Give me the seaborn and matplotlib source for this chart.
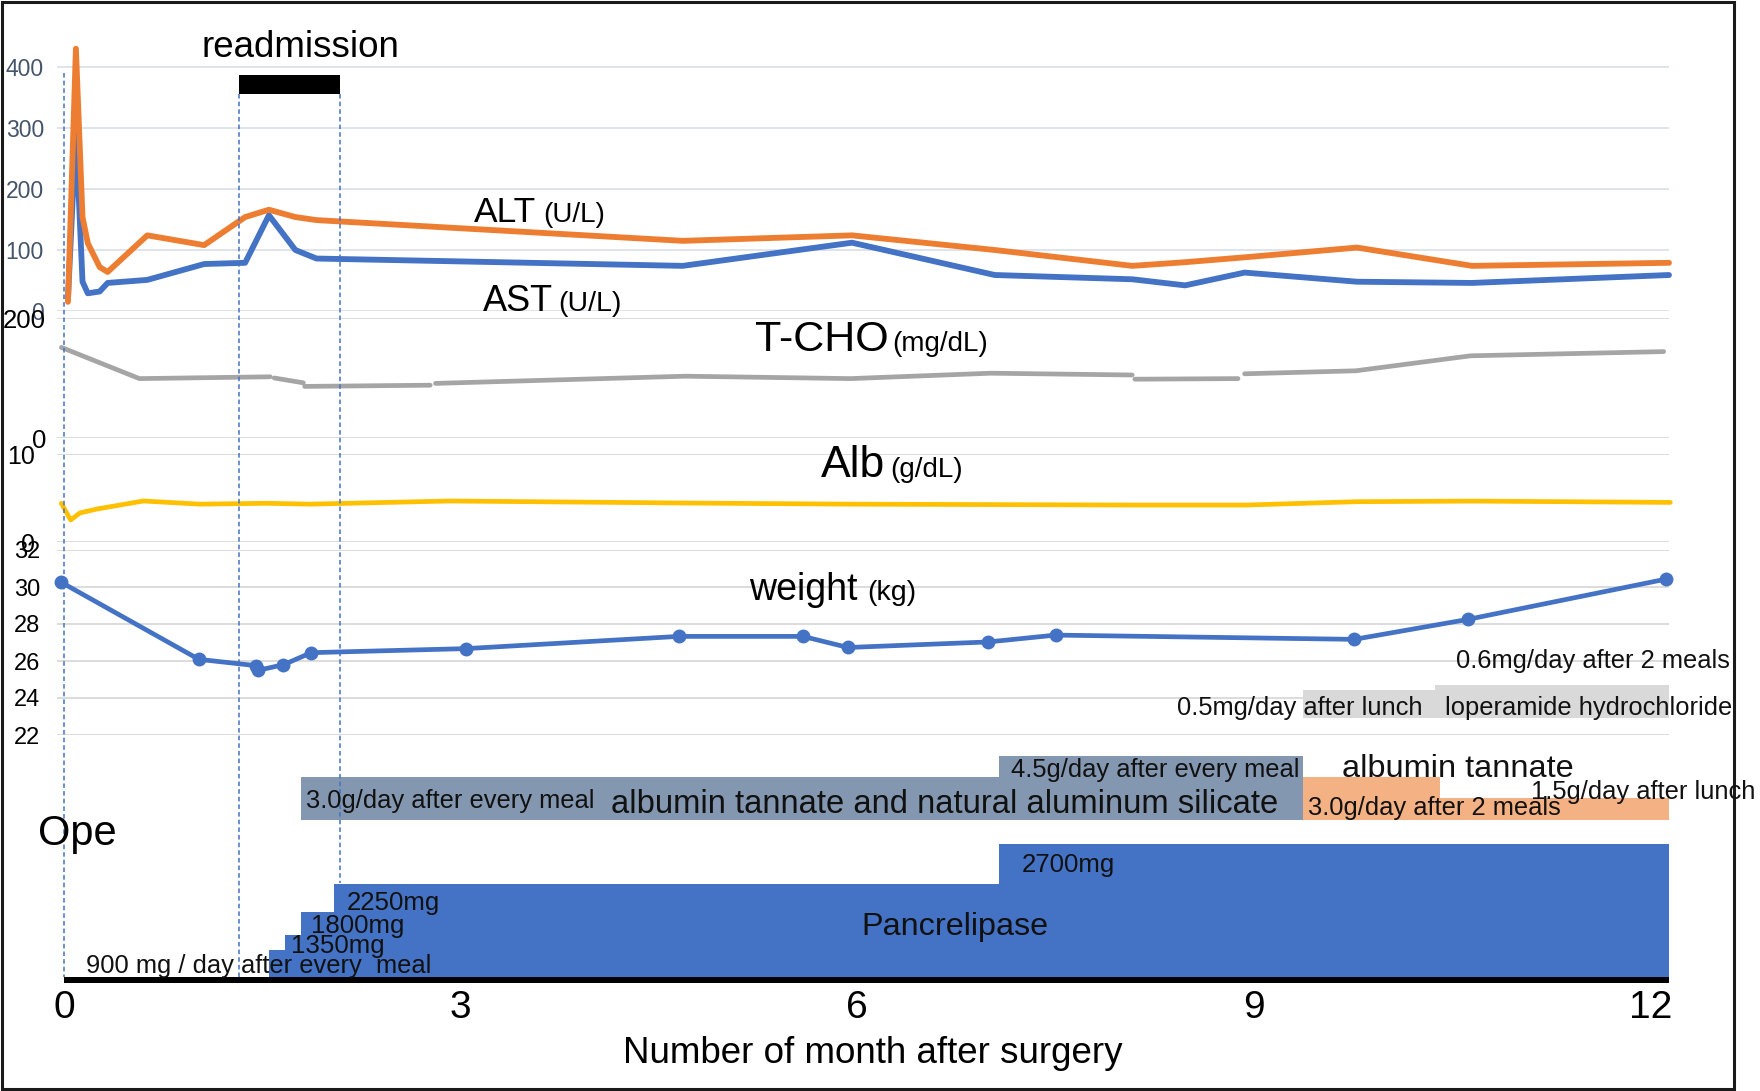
import numpy as np
import pandas as pd
import matplotlib
matplotlib.use("Agg")
import matplotlib.pyplot as plt
import seaborn as sns
from matplotlib.patches import Rectangle

# ---- values (x = months after surgery) ----
liver_month = [0.03, 0.09, 0.14, 0.18, 0.27, 0.33, 0.63, 1.06, 1.37, 1.55, 1.75, 1.91,
               4.68, 5.96, 7.04, 8.08, 8.48, 8.93, 9.78, 10.65, 12.14]
alt = [15, 430, 154, 111, 72, 64, 124, 108, 154, 166, 154, 149,
       115, 124, 100, 74, 80, 88, 104, 74, 79]
ast = [20, 295, 48, 29, 32, 46, 51, 77, 79, 157, 100, 86,
       74, 112, 59, 52, 42, 63, 48, 46, 59]

# T-CHO is drawn in broken pieces in the original
tcho_seg = [0, 0, 0, 1, 1, 2, 2, 3, 3, 3, 3, 3, 4, 4, 5, 5, 5, 5]
tcho_month = [-0.02, 0.57, 1.56, 1.59, 1.81, 1.82, 2.77, 2.81, 4.70, 5.95, 7.01, 8.08,
              8.10, 8.88, 8.93, 9.77, 10.64, 12.10]
tcho = [151, 99, 102, 100, 92, 86, 88, 91, 103, 99, 108, 105, 98, 99, 107, 112, 137, 144]

alb_month = [-0.02, 0.05, 0.12, 0.25, 0.6, 1.03, 1.53, 1.86, 2.92, 4.70, 5.95, 8.08,
             8.94, 9.78, 10.65, 12.15]
alb = [4.4, 2.5, 3.3, 3.75, 4.66, 4.3, 4.4, 4.3, 4.66, 4.43, 4.3, 4.2, 4.2, 4.58, 4.65, 4.5]

wt_month = [-0.02, 1.02, 1.45, 1.47, 1.66, 1.87, 3.04, 4.65, 5.59, 5.93, 6.99, 7.5,
            9.76, 10.62, 12.12]
weight = [30.25, 26.09, 25.75, 25.5, 25.8, 26.45, 26.67, 27.33, 27.33, 26.73, 27.03, 27.4,
          27.17, 28.25, 30.43]

# treatments
lop_start = [9.37, 10.37]
lop_end = [10.37, 12.14]
lop_dose = [0.5, 0.6]          # mg/day

sil_start = [1.79, 7.07]
sil_end = [7.07, 9.37]
sil_dose = [3.0, 4.5]          # g/day

tan_start = [9.37, 10.41]
tan_end = [10.41, 12.14]
tan_dose = [3.0, 1.5]          # g/day

panc_start = [1.55, 1.67, 1.79, 2.04, 7.07]
panc_end = [1.67, 1.79, 2.04, 7.07, 12.14]
panc_height = [27, 42, 65, 93, 133]   # bar heights as drawn
panc_labels = ["1350mg", "1800mg", "2250mg", "2700mg"]

readmit = (1.32, 2.09)
follow_end = 12.14
x_ticks = [0, 3, 6, 9, 12]

# ---- figure ----
sns.set_theme(style="white")
plt.rcParams['font.family'] = ['Liberation Sans', 'DejaVu Sans']

W, H = 1760, 1091
fig = plt.figure(figsize=(W / 100, H / 100), dpi=100)
XLIM = (-0.053, 12.14)
XL, XR = 57, 1669


def panel(top, bottom):
    ax = fig.add_axes([XL / W, 1 - bottom / H, (XR - XL) / W, (bottom - top) / H])
    ax.set_xlim(*XLIM)
    ax.set_facecolor('none')
    for s in ax.spines.values():
        s.set_visible(False)
    ax.set_xticks([])
    return ax


def tidy(ax, ticks, lim, size, pad, color='black', grid='#D9D9D9'):
    ax.set_ylim(*lim)
    ax.set_yticks(ticks)
    ax.set_xlabel('')
    ax.set_ylabel('')
    ax.tick_params(axis='y', length=0, pad=pad, labelsize=size, labelcolor=color)
    ax.grid(axis='y', color=grid, lw=1.3)
    ax.grid(axis='x', visible=False)
    ax.set_axisbelow(True)


line_kw = dict(solid_joinstyle='round', solid_capstyle='round', clip_on=False)

# ALT / AST
ax1 = panel(42.6, 311)
sns.lineplot(x=liver_month, y=ast, ax=ax1, color='#4472C4', lw=4.2, sort=False,
             estimator=None, **line_kw)
sns.lineplot(x=liver_month, y=alt, ax=ax1, color='#ED7D31', lw=4.2, sort=False,
             estimator=None, **line_kw)
tidy(ax1, [0, 100, 200, 300, 400], (0, 440), 16.5, 9.4, color='#44546A', grid='#DCE2EA')
ax1.set_xlim(*XLIM)

# T-CHO
ax2 = panel(318, 438)
tcho_df = pd.DataFrame({'seg': tcho_seg, 'month': tcho_month, 'tcho': tcho})
sns.lineplot(data=tcho_df, x='month', y='tcho', units='seg', estimator=None, sort=False,
             ax=ax2, color='#A5A5A5', lw=3.4, legend=False, **line_kw)
tidy(ax2, [0, 200], (0, 200), 18.5, 8)
ax2.set_xlim(*XLIM)

# Alb
ax3 = panel(454, 542)
sns.lineplot(x=alb_month, y=alb, ax=ax3, color='#FFC000', lw=3.4, sort=False,
             estimator=None, **line_kw)
tidy(ax3, [0, 10], (0, 10), 18, 16)
ax3.set_xlim(*XLIM)

# weight
ax4 = panel(550, 735)
sns.lineplot(x=wt_month, y=weight, ax=ax4, color='#4472C4', lw=3.4, marker='o',
             markersize=10, markeredgewidth=0, sort=False, estimator=None, **line_kw)
tidy(ax4, list(range(22, 33, 2)), (22, 32), 17, 12)
ax4.set_xlim(*XLIM)

# loperamide row
ax5 = panel(684.6, 718.3)
ax5.bar(lop_start, lop_dose, width=np.subtract(lop_end, lop_start), align='edge',
        color='#D9D9D9', lw=0)
ax5.set_ylim(0, 0.6)
ax5.set_yticks([])

# albumin tannate (+ natural aluminum silicate) row
ax6 = panel(755.5, 819.5)
ax6.bar(sil_start, sil_dose, width=np.subtract(sil_end, sil_start), align='edge',
        color='#8497B0', lw=0)
ax6.bar(tan_start, tan_dose, width=np.subtract(tan_end, tan_start), align='edge',
        color='#F4B183', lw=0)
ax6.set_ylim(0, 4.5)
ax6.set_yticks([])

# pancrelipase row
ax7 = panel(842, 983)
ax7.bar(panc_start, panc_height, width=np.subtract(panc_end, panc_start), align='edge',
        color='#4472C4', lw=0)
ax7.bar([0], [-6], width=[follow_end], align='edge', color='black', lw=0)
ax7.set_ylim(-6, 135)
ax7.set_yticks([])
ax7.set_xticks(x_ticks)
ax7.set_xticklabels([str(t) for t in x_ticks])
ax7.tick_params(axis='x', length=0, pad=5, labelsize=28, labelcolor='black')

# overlay: dashed markers and readmission bar (y in pixels, top down)
ov = panel(0, H)
ov.set_ylim(H, 0)
ov.set_yticks([])
dash = dict(color='#4472C4', lw=1.1, linestyle=(0, (3, 2)))
ov.vlines([0], 73, 977, **dash)
ov.vlines([readmit[0]], 94, 977, **dash)
ov.vlines([readmit[1]], 94, 883, **dash)
ov.barh(84.5, readmit[1] - readmit[0], left=readmit[0], height=19, color='black', lw=0)


def ftext(x, y, s, size, ha='left', va='baseline', color='#111111'):
    fig.text(x / W, 1 - y / H, s, fontsize=size, ha=ha, va=va, color=color)


ftext(300.8, 57, 'readmission', 26.5, ha='center', color='black')
ftext(473.7, 221.7, 'ALT', 25.5, color='black')
ftext(543.7, 221.7, '(U/L)', 20, color='black')
ftext(482.6, 311, 'AST', 26, color='black')
ftext(558.5, 311, '(U/L)', 20.5, color='black')
ftext(755, 351, 'T-CHO', 31, color='black')
ftext(892, 351, '(mg/dL)', 20, color='black')
ftext(820.5, 477, 'Alb', 32, color='black')
ftext(890, 477, '(g/dL)', 20, color='black')
ftext(748.6, 600, 'weight', 27, color='black')
ftext(867.6, 600, '(kg)', 20.5, color='black')
ftext(38, 845, 'Ope', 30, color='black')

ftext(1177, 715, '0.5mg/day after lunch', 18.4)
ftext(1445, 715, 'loperamide hydrochloride', 18.4)
ftext(1455.6, 668.3, '0.6mg/day after 2 meals', 18.4)

ftext(306, 808, '3.0g/day after every meal', 18.4)
ftext(610.8, 813, 'albumin tannate and natural aluminum silicate', 23.6)
ftext(1010.7, 777, '4.5g/day after every meal', 18.4)
ftext(1342, 776.7, 'albumin tannate', 23.4)
ftext(1308, 815, '3.0g/day after 2 meals', 18.4)
ftext(1531.4, 799.3, '1.5g/day after lunch', 18.4)

ftext(861, 935, 'Pancrelipase', 23.3)
ftext(1021.7, 872, panc_labels[3], 18.6)
ftext(346.7, 910, panc_labels[2], 18.6)
ftext(311, 933, panc_labels[1], 18.6)
ftext(290.7, 953, panc_labels[0], 18.6)
ftext(86, 973.3, '900 mg / day after every  meal', 18.4)

ftext(873, 1062.7, 'Number of month after surgery', 26.5, ha='center', color='black')

# outer frame
fig.add_artist(Rectangle((1.5 / W, 1 - 1089 / H), (1734 - 1.5) / W, (1089 - 1.5) / H,
                         transform=fig.transFigure, fill=False, lw=2.2, edgecolor='#1a1a1a'))

fig.savefig('out.png', dpi=100)
plt.close(fig)
